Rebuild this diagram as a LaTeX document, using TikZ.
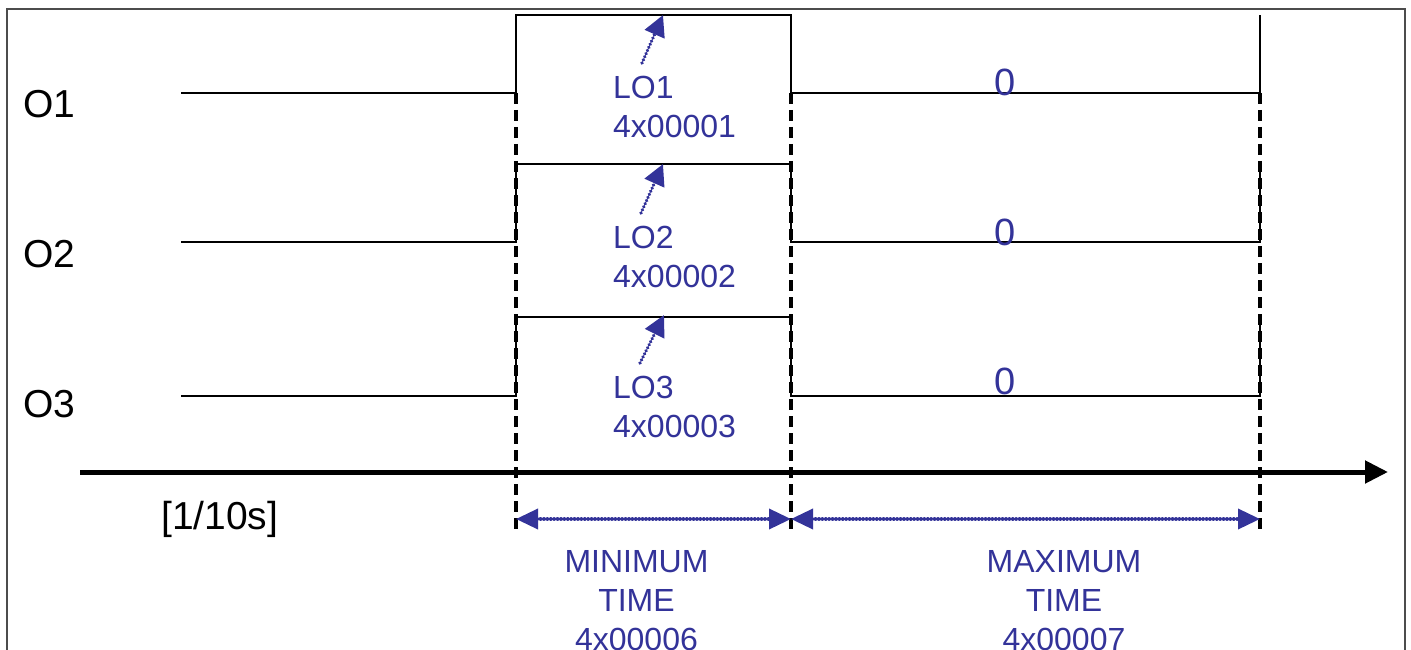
\documentclass[tikz,border=0pt]{standalone}
\usepackage{fontspec}
\setmainfont{Liberation Sans}
\usetikzlibrary{arrows.meta}
\definecolor{lblue}{RGB}{51,51,153}
\begin{document}
\begin{tikzpicture}[x=1pt,y=-1pt,
 sig/.style={line width=2pt, line join=miter},
 guide/.style={line width=3.5pt, dash pattern=on 11pt off 6pt},
 axisline/.style={line width=5pt,-{Triangle[length=23pt,width=22pt]}},
 span/.style={draw=lblue, line width=3.6pt, dash pattern=on 0.1pt off 3.3pt, line cap=round,
   {Triangle[length=22pt,width=20pt,fill=lblue]}-{Triangle[length=22pt,width=20pt,fill=lblue]}},
 ptr/.style={draw=lblue, line width=3.6pt, dash pattern=on 0.1pt off 3.3pt, line cap=round,
   -{Triangle[length=21pt,width=21pt,fill=lblue]}},
 blk/.style={font=\fontsize{39}{44}\selectfont, inner sep=0pt},
 btxt/.style={text=lblue, font=\fontsize{32}{39}\selectfont, inner sep=0pt},
 zero/.style={text=lblue, font=\fontsize{38}{40}\selectfont, inner sep=0pt, anchor=base}
]
\useasboundingbox (0,0) rectangle (1411,650);
% frame
\draw[line width=1.5pt, black!70] (7,650) -- (7,9) -- (1405,9) -- (1405,650);

% signals
\foreach \b/\h/\n in {93/15/1, 242/164/2, 396/317/3}{
  \draw[sig] (181,\b) -- (516,\b) -- (516,\h) -- (791,\h) -- (791,\b) -- (1260,\b) -- (1260,\h);
}

% guide lines
\coordinate (g1t) at (516,93);  \coordinate (g1b) at (516,532);
\coordinate (g2t) at (791,93);  \coordinate (g2b) at (791,532);
\coordinate (g3t) at (1260,93); \coordinate (g3b) at (1260,532);
\draw[guide] (g1t) -- (g1b);
\draw[guide] (g2t) -- (g2b);
\draw[guide] (g3t) -- (g3b);

% time axis
\coordinate (ax0) at (80,472); \coordinate (ax1) at (1388,472);
\draw[axisline] (ax0) -- (ax1);

% spans
\coordinate (s0) at (516,519); \coordinate (s1) at (791,519); \coordinate (s2) at (1260,519);
\draw[span] (s0) -- (s1);
\draw[span] (s1) -- (s2);

% pointers
\coordinate (p1s) at (642,63);  \coordinate (p1e) at (663,15);
\coordinate (p2s) at (641,213); \coordinate (p2e) at (663,164);
\coordinate (p3s) at (640,363); \coordinate (p3e) at (664,315);
\draw[ptr] (p1s) -- (p1e);
\draw[ptr] (p2s) -- (p2e);
\draw[ptr] (p3s) -- (p3e);

% labels
\node[blk, anchor=base west] (o1) at (23,118) {O1};
\node[blk, anchor=base west] (o2) at (23,267) {O2};
\node[blk, anchor=base west] (o3) at (23,417) {O3};
\node[blk, anchor=base west] (unit) at (161,529) {[1/10s]};

\node[btxt, anchor=north west, align=left] (lo1) at (613,76) {LO1\\4x00001};
\node[btxt, anchor=north west, align=left] (lo2) at (613,226) {LO2\\4x00002};
\node[btxt, anchor=north west, align=left] (lo3) at (613,376) {LO3\\4x00003};

\node[zero] (z1) at (1005.5,96) {0};
\node[zero] (z2) at (1005.5,245) {0};
\node[zero] (z3) at (1005.5,394) {0};

\node[btxt, anchor=north, align=center] (mint) at (636.5,550) {MINIMUM\\TIME\\4x00006};
\node[btxt, anchor=north, align=center] (maxt) at (1064,550) {MAXIMUM\\TIME\\4x00007};
\end{tikzpicture}
\end{document}
